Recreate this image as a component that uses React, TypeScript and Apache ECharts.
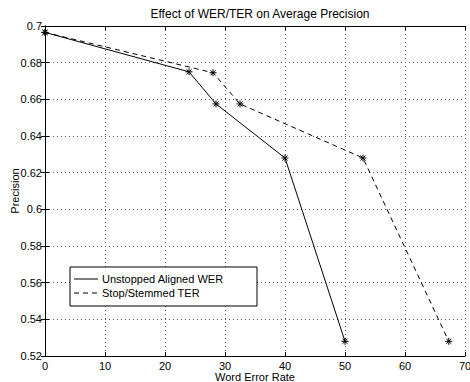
import React, { useEffect, useRef } from "react";
import * as echarts from "echarts";

const werX = [0, 24, 28.5, 40, 50];
const werY = [0.6965, 0.675, 0.6575, 0.628, 0.528];
const terX = [0, 28, 32.5, 53, 67.3];
const terY = [0.6965, 0.6745, 0.6575, 0.628, 0.528];
const seriesNames = ["Unstopped Aligned WER", "Stop/Stemmed TER"];
const titleText = "Effect of WER/TER on Average Precision";
const xName = "Word Error Rate";
const yName = "Precision";

const FONT = "Liberation Sans, Arial, Helvetica, sans-serif";
const STAR = "path://M0,-5L0,5M-5,0L5,0M-3.6,-3.6L3.6,3.6M-3.6,3.6L3.6,-3.6";

export default function App() {
  const ref = useRef<HTMLDivElement>(null);
  useEffect(() => {
    if (!ref.current) return;
    const chart = echarts.init(ref.current, undefined, { renderer: "svg" });
    const toPairs = (xs: number[], ys: number[]) => xs.map((x, i) => [x, ys[i]]);
    const gridLine = { show: true, lineStyle: { color: "#555", type: [1, 3] as any, width: 1 } };
    const axisLine = { show: true, lineStyle: { color: "#000", width: 1 } };
    const tick = { show: true, inside: true, length: 4, lineStyle: { color: "#000" } };
    chart.setOption({
      animation: false,
      backgroundColor: "#fff",
      title: {
        text: titleText,
        left: 255,
        textAlign: "center",
        top: 3,
        textStyle: { fontFamily: FONT, fontSize: 12, fontWeight: "normal", color: "#000" },
      },
      grid: { left: 45, right: 5, top: 26, bottom: 26, containLabel: false, outerBoundsMode: "none" } as any,
      xAxis: [
        {
          type: "value",
          min: 0,
          max: 70,
          interval: 10,
          name: xName,
          nameLocation: "middle",
          nameGap: 15,
          nameMoveOverlap: false,
          nameTextStyle: { fontFamily: FONT, fontSize: 11, color: "#000" },
          axisLine,
          axisTick: tick,
          axisLabel: { fontFamily: FONT, fontSize: 11, color: "#000", margin: 4 },
          splitLine: gridLine,
        },
        {
          type: "value",
          position: "top",
          min: 0,
          max: 70,
          interval: 10,
          axisLine,
          axisTick: tick,
          axisLabel: { show: false },
          splitLine: { show: false },
        },
      ],
      yAxis: [
        {
          type: "value",
          min: 0.52,
          max: 0.7,
          interval: 0.02,
          name: yName,
          nameLocation: "middle",
          nameRotate: 90,
          nameGap: 25,
          nameMoveOverlap: false,
          nameTextStyle: { fontFamily: FONT, fontSize: 11, color: "#000" },
          axisLine,
          axisTick: tick,
          axisLabel: { fontFamily: FONT, fontSize: 11, color: "#000", margin: 3 },
          splitLine: gridLine,
        },
        {
          type: "value",
          position: "right",
          min: 0.52,
          max: 0.7,
          interval: 0.02,
          axisLine,
          axisTick: tick,
          axisLabel: { show: false },
          splitLine: { show: false },
        },
      ],
      series: [
        {
          name: seriesNames[0],
          type: "line",
          data: toPairs(werX, werY),
          lineStyle: { color: "#000", width: 1, type: "solid" },
          symbol: STAR,
          symbolSize: 7,
          itemStyle: { color: "none", borderColor: "#000", borderWidth: 1 },
          z: 3,
        },
        {
          name: seriesNames[1],
          type: "line",
          data: toPairs(terX, terY),
          lineStyle: { color: "#000", width: 1, type: [5, 4] as any },
          symbol: STAR,
          symbolSize: 7,
          itemStyle: { color: "none", borderColor: "#000", borderWidth: 1 },
          z: 3,
        },
      ],
      graphic: [
        {
          type: "rect",
          shape: { x: 70, y: 267, width: 187, height: 39 },
          style: { fill: "#fff", stroke: "#000", lineWidth: 1 },
          z: 10,
        },
        {
          type: "line",
          shape: { x1: 74, y1: 279, x2: 98, y2: 279 },
          style: { stroke: "#000", lineWidth: 1 },
          z: 11,
        },
        {
          type: "line",
          shape: { x1: 74, y1: 293, x2: 98, y2: 293 },
          style: { stroke: "#000", lineWidth: 1, lineDash: [5, 4] },
          z: 11,
        },
        {
          type: "text",
          x: 102,
          y: 279,
          style: { text: seriesNames[0], fontFamily: FONT, fontSize: 11, fill: "#000", textVerticalAlign: "middle" },
          z: 11,
        },
        {
          type: "text",
          x: 102,
          y: 293,
          style: { text: seriesNames[1], fontFamily: FONT, fontSize: 11, fill: "#000", textVerticalAlign: "middle" },
          z: 11,
        },
      ],
    });
    return () => chart.dispose();
  }, []);
  return (
    <div
      ref={ref}
      style={{ position: "fixed", left: 0, top: 0, width: 470, height: 382, background: "#fff" }}
    />
  );
}
